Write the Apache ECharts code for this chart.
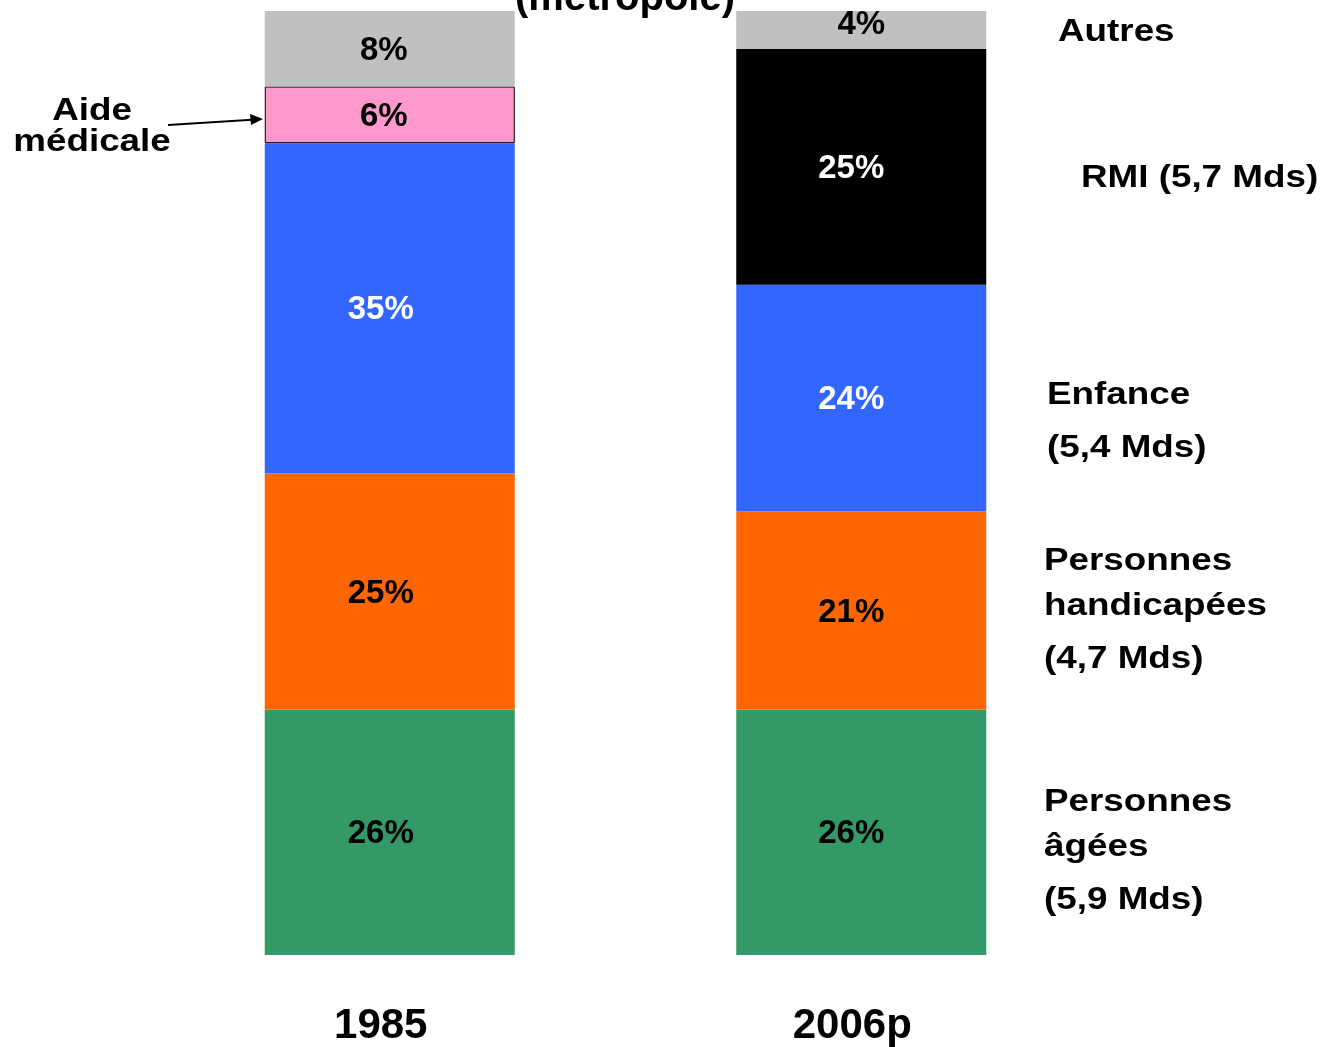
<!DOCTYPE html>
<html>
<head>
<meta charset="utf-8">
<script src="https://cdn.jsdelivr.net/npm/echarts@6/dist/echarts.min.js"></script>
<style>
html,body{margin:0;padding:0;background:#fff;}
#c{width:1324px;height:1047px;}
</style>
</head>
<body>
<div id="c"></div>
<script>
var years = ['1985', '2006p'];
var agees = [26, 26];
var handicapees = [25, 21];
var enfance = [35, 24];
var aideMedicale = [6, null];
var rmi = [null, 25];
var autres = [8, 4];

var FONT = 'Arial, "Liberation Sans", sans-serif';
var chart = echarts.init(document.getElementById('c'));

function mk(name, data, color, labelColor, offsets, extra) {
  return Object.assign({
    name: name,
    type: 'bar',
    stack: 'total',
    barWidth: 250,
    data: data.map(function (v, i) {
      return {
        value: v,
        label: { offset: offsets[i] }
      };
    }),
    itemStyle: { color: color },
    label: {
      show: true,
      position: 'inside',
      formatter: function (p) { return p.value == null ? '' : p.value + '%'; },
      color: labelColor,
      fontFamily: FONT,
      fontWeight: 'bold',
      fontSize: 33
    },
    emphasis: { disabled: true }
  }, extra || {});
}

function txt(s, x, y, align) {
  return {
    type: 'text', x: x, y: y, scaleX: 1.15, scaleY: 1,
    style: { text: s, font: 'bold 32px ' + FONT, fill: '#000', align: align || 'left', verticalAlign: 'middle' }
  };
}

var option = {
  animation: false,
  backgroundColor: '#fff',
  grid: { left: 154, width: 943, top: 11, bottom: 91 },
  xAxis: {
    type: 'category',
    data: years,
    axisLine: { show: false },
    axisTick: { show: false },
    axisLabel: {
      margin: 50,
      fontFamily: FONT,
      fontWeight: 'bold',
      fontSize: 42,
      color: '#000',
      padding: [0, 18, 0, 0]
    }
  },
  yAxis: {
    type: 'value',
    min: 0,
    max: 100,
    show: false
  },
  series: [
    mk('Personnes âgées', agees, '#339966', '#000', [[-9, 2], [-10, 2]]),
    mk('Personnes handicapées', handicapees, '#FF6600', '#000', [[-9, 2], [-10, 2]]),
    mk('Enfance', enfance, '#3366FF', '#fff', [[-9, 2], [-10, 2]]),
    mk('Aide médicale', aideMedicale, '#FF99CC', '#000', [[-6, 2], [0, 0]],
       { itemStyle: { color: '#FF99CC', borderColor: '#000', borderWidth: 1 } }),
    mk('RMI', rmi, '#000000', '#fff', [[0, 0], [-10, 2]]),
    mk('Autres', autres, '#C0C0C0', '#000', [[-6, 2], [0, -5]])
  ],
  graphic: [
    { type: 'text', x: 625, y: -1,
      style: { text: '(métropole)', font: 'bold 40px ' + FONT, fill: '#000', align: 'center', verticalAlign: 'middle' } },
    txt('Aide', 92, 111, 'center'),
    txt('médicale', 92, 142, 'center'),
    { type: 'line', shape: { x1: 168, y1: 125, x2: 252, y2: 119.8 }, style: { stroke: '#000', lineWidth: 2 } },
    { type: 'polygon', shape: { points: [[263, 119], [250, 114], [251, 125]] }, style: { fill: '#000' } },
    txt('Autres', 1058, 32),
    txt('RMI (5,7 Mds)', 1081, 178),
    txt('Enfance', 1047, 395),
    txt('(5,4 Mds)', 1047, 448),
    txt('Personnes', 1044, 561),
    txt('handicapées', 1044, 606),
    txt('(4,7 Mds)', 1044, 659),
    txt('Personnes', 1044, 802),
    txt('âgées', 1044, 847),
    txt('(5,9 Mds)', 1044, 900)
  ]
};
chart.setOption(option);
</script>
</body>
</html>
